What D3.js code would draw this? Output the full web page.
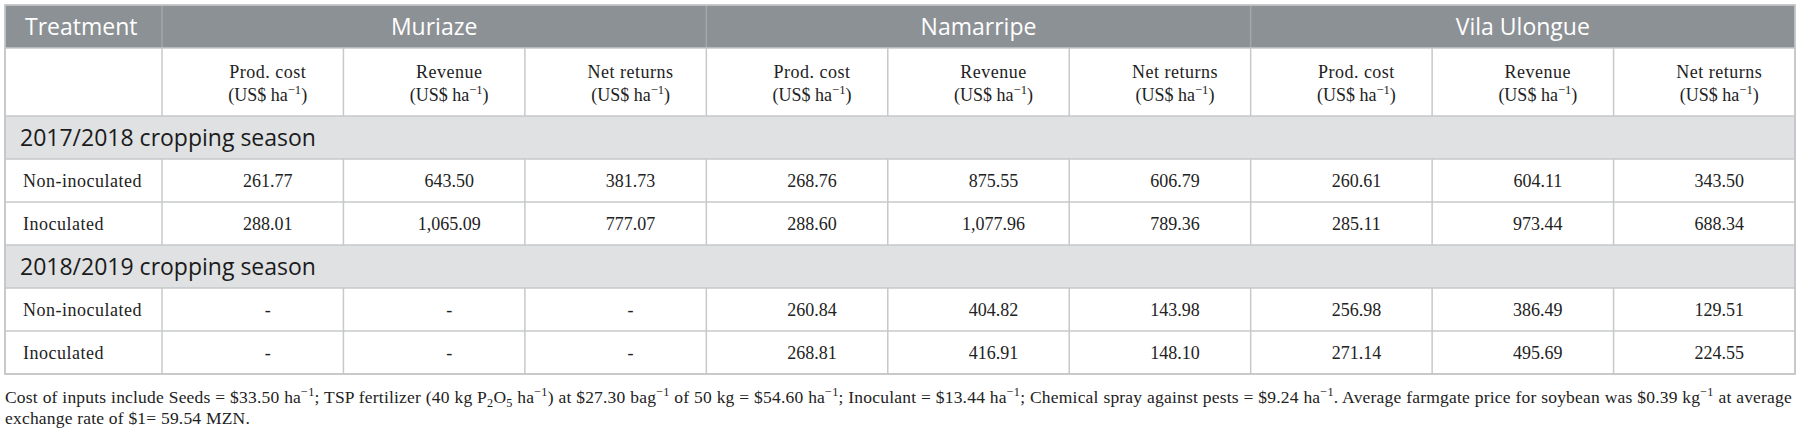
<!DOCTYPE html>
<html lang="en">
<head>
  <meta charset="utf-8">
  <title>Production cost, revenue and net returns</title>
  <script src="https://cdn.jsdelivr.net/npm/d3@7"></script>
  <style>
    body { margin: 0; background: #fff; }
    svg { display: block; }
  </style>
</head>
<body>
<script>
  // data
  const sites = ["Muriaze", "Namarripe", "Vila Ulongue"];
  const metrics = ["Prod. cost", "Revenue", "Net returns"];
  const seasons = ["2017/2018 cropping season", "2018/2019 cropping season"];
  const treatments = ["Non-inoculated", "Inoculated"];

  // one array per season and treatment, 9 values: site x metric
  const season1NonInoc = [261.77, 643.50, 381.73, 268.76, 875.55, 606.79, 260.61, 604.11, 343.50];
  const season1Inoc = [288.01, 1065.09, 777.07, 288.60, 1077.96, 789.36, 285.11, 973.44, 688.34];
  const season2NonInoc = [null, null, null, 260.84, 404.82, 143.98, 256.98, 386.49, 129.51];
  const season2Inoc = [null, null, null, 268.81, 416.91, 148.10, 271.14, 495.69, 224.55];
  const seasonValues = [[season1NonInoc, season1Inoc], [season2NonInoc, season2Inoc]];

  const footLines = [
    "Cost of inputs include Seeds = $33.50 ha^{−1}; TSP fertilizer (40 kg P_{2}O_{5} ha^{−1}) at $27.30 bag^{−1} of 50 kg = $54.60 ha^{−1}; Inoculant = $13.44 ha^{−1}; Chemical spray against pests = $9.24 ha^{−1}. Average farmgate price for soybean was $0.39 kg^{−1} at average",
    "exchange rate of $1= 59.54 MZN."
  ];

  // layout
  const W = 1801, H = 433;
  const left = 5, right = 1795, firstColRight = 162;
  const hdr1 = [5, 48], hdr2 = [48, 116];
  const rowH = 43;
  const cellShift = 15; // cell text sits a bit right of the column centre
  const sans = "'Open Sans', sans-serif";
  const serif = "'Liberation Serif', 'Times New Roman', serif";
  const lineCol = "#c6c8ca";
  const textSize = 18;

  const svg = d3.select("body").append("svg")
    .attr("width", W).attr("height", H);

  const colIdx = d3.range(sites.length * metrics.length);
  const xCol = d3.scaleBand().domain(colIdx).range([firstColRight, right]);
  const xSite = d3.scaleBand().domain(sites).range([firstColRight, right]);
  const colMid = c => xCol(c) + xCol.bandwidth() / 2 + cellShift;

  // body rows: season label then its treatment rows
  const rows = [];
  seasons.forEach((s, si) => {
    rows.push({type: "season", label: s});
    treatments.forEach((t, ti) => rows.push({type: "data", label: t, values: seasonValues[si][ti]}));
  });
  const yRow = d3.scaleBand().domain(d3.range(rows.length))
    .range([hdr2[1], hdr2[1] + rowH * rows.length]);

  const fmt = d3.format(",.2f");

  // header row 1
  svg.append("rect")
    .attr("x", left).attr("y", hdr1[0])
    .attr("width", right - left).attr("height", hdr1[1] - hdr1[0])
    .attr("fill", "#8c9195");

  svg.append("text")
    .attr("x", 25).attr("y", (hdr1[0] + hdr1[1]) / 2 + 8.5)
    .attr("font-family", sans).attr("font-size", 23)
    .attr("fill", "#fff").text("Treatment");

  svg.selectAll("text.site").data(sites).join("text")
    .attr("class", "site")
    .attr("x", d => xSite(d) + xSite.bandwidth() / 2)
    .attr("y", (hdr1[0] + hdr1[1]) / 2 + 8.5)
    .attr("text-anchor", "middle")
    .attr("font-family", sans).attr("font-size", 23)
    .attr("fill", "#fff").text(d => d);

  svg.selectAll("line.hdiv").data([firstColRight].concat(sites.slice(1).map(d => xSite(d))))
    .join("line").attr("class", "hdiv")
    .attr("x1", d => d).attr("x2", d => d)
    .attr("y1", hdr1[0]).attr("y2", hdr1[1])
    .attr("stroke", "#a3a7aa").attr("stroke-width", 1.5);

  // season rows background
  rows.forEach((r, i) => {
    if (r.type === "season") {
      svg.append("rect")
        .attr("x", left).attr("y", yRow(i))
        .attr("width", right - left).attr("height", yRow.bandwidth())
        .attr("fill", "#dfe1e3");
    }
  });

  // rich text helper: ^{..} superscript, _{..} subscript
  function richText(sel, str, size) {
    const parts = str.split(/(\^\{[^}]*\}|_\{[^}]*\})/).filter(p => p.length);
    let state = 0;
    parts.forEach(p => {
      let target = 0, txt = p, fs = size;
      if (p.startsWith("^{")) { target = -0.38 * size; txt = p.slice(2, -1); fs = size * 0.7; }
      else if (p.startsWith("_{")) { target = 0.22 * size; txt = p.slice(2, -1); fs = size * 0.7; }
      sel.append("tspan").attr("dy", target - state).attr("font-size", fs).text(txt);
      state = target;
    });
    if (state !== 0) sel.append("tspan").attr("dy", -state).text("\u200b");
  }

  // header row 2
  colIdx.forEach(c => {
    svg.append("text")
      .attr("x", colMid(c)).attr("y", 78)
      .attr("text-anchor", "middle")
      .attr("font-family", serif).attr("font-size", textSize)
      .attr("letter-spacing", 0.5)
      .attr("fill", "#222").text(metrics[c % metrics.length]);
    const t = svg.append("text")
      .attr("x", colMid(c)).attr("y", 101)
      .attr("text-anchor", "middle")
      .attr("font-family", serif).attr("font-size", textSize)
      .attr("fill", "#222");
    richText(t, "(US$ ha^{−1})", textSize);
  });

  // body rows
  rows.forEach((r, i) => {
    const cy = yRow(i) + yRow.bandwidth() / 2;
    if (r.type === "season") {
      svg.append("text")
        .attr("x", 20).attr("y", cy + 8.5)
        .attr("font-family", sans).attr("font-size", 23)
        .attr("fill", "#1b1b1b").text(r.label);
    } else {
      svg.append("text")
        .attr("x", 23).attr("y", cy + 6.5)
        .attr("font-family", serif).attr("font-size", textSize)
        .attr("letter-spacing", 0.5)
        .attr("fill", "#222").text(r.label);
      svg.selectAll(null).data(r.values).join("text")
        .attr("x", (d, c) => colMid(c))
        .attr("y", cy + 6.5)
        .attr("text-anchor", "middle")
        .attr("font-family", serif).attr("font-size", textSize)
        .attr("fill", "#222")
        .text(d => d == null ? "-" : fmt(d));
    }
  });

  // grid lines
  const bottom = yRow.range()[1];
  const grid = svg.append("g").attr("stroke", lineCol).attr("stroke-width", 1.5);

  // horizontal lines
  const hLines = [hdr1[1], hdr2[1]].concat(d3.range(1, rows.length).map(i => yRow(i)));
  grid.selectAll("line.h").data(hLines).join("line")
    .attr("x1", left).attr("x2", right)
    .attr("y1", d => d).attr("y2", d => d);

  // vertical lines inside header row 2 and data rows
  const vSegments = [[hdr2[0], hdr2[1]]];
  rows.forEach((r, i) => { if (r.type === "data") vSegments.push([yRow(i), yRow(i) + yRow.bandwidth()]); });
  const vX = [firstColRight].concat(colIdx.slice(1).map(c => xCol(c)));
  vSegments.forEach(seg => {
    vX.forEach(x => {
      grid.append("line").attr("x1", x).attr("x2", x).attr("y1", seg[0]).attr("y2", seg[1]);
    });
  });

  // outer border
  svg.append("rect")
    .attr("x", left).attr("y", hdr1[0])
    .attr("width", right - left).attr("height", bottom - hdr1[0])
    .attr("fill", "none").attr("stroke", "#c2c4c6").attr("stroke-width", 1.8);

  // footnote
  const footSize = 17.5;
  footLines.forEach((line, i) => {
    const t = svg.append("text")
      .attr("x", left).attr("y", 403 + i * 21)
      .attr("font-family", serif).attr("font-size", footSize)
      .attr("letter-spacing", 0.2)
      .attr("fill", "#222");
    richText(t, line, footSize);
    if (i === 0) {
      // spread the first line across the full table width
      const natural = t.node().getComputedTextLength();
      const spaces = (line.match(/ /g) || []).length;
      const extra = Math.max(0, (right - 3 - left - natural) / spaces);
      t.attr("word-spacing", extra);
    }
  });
</script>
</body>
</html>
